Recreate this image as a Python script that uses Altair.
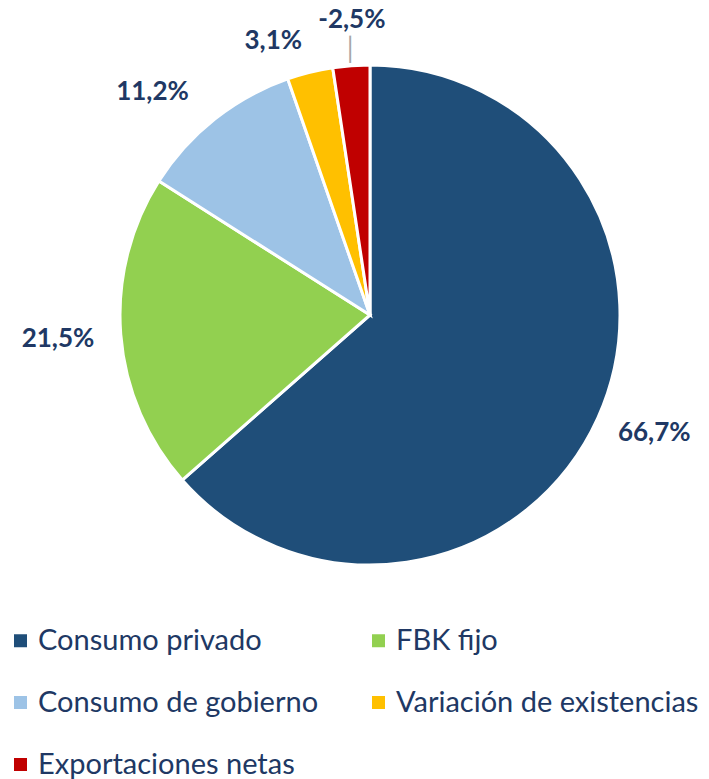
import altair as alt
import pandas as pd

categorias = ["Consumo privado", "FBK fijo", "Consumo de gobierno",
              "Variación de existencias", "Exportaciones netas"]
valores = [66.7, 21.5, 11.2, 3.1, -2.5]
colores = ["#1F4E79", "#92D050", "#9DC3E6", "#FFC000", "#C00000"]

etiquetas = [f"{v:.1f}".replace(".", ",") + "%" for v in valores]

df = pd.DataFrame({
    "categoria": categorias,
    "valor": valores,
    "etiqueta": etiquetas,
    "orden": list(range(len(categorias))),
})

FONT = "Lato"
TXT = "#203864"

base = alt.Chart(df).transform_calculate(
    absval="abs(datum.valor)"
).transform_window(
    cum="sum(absval)", sort=[alt.SortField("orden", order="ascending")],
    frame=[None, 0]
).transform_joinaggregate(
    total="sum(absval)"
).transform_calculate(
    t0="2*PI*(datum.cum-datum.absval)/datum.total",
    t1="2*PI*datum.cum/datum.total",
).transform_calculate(
    tm="(datum.t0+datum.t1)/2"
)

arcs = base.mark_arc(outerRadius=250, stroke="white", strokeWidth=3).encode(
    theta=alt.Theta("t0:Q", scale=None),
    theta2="t1:Q",
    color=alt.Color(
        "categoria:N",
        scale=alt.Scale(domain=categorias, range=colores),
        legend=alt.Legend(
            title=None, orient="none", legendX=-33, legendY=618,
            columns=2, direction="horizontal", symbolType="square",
            symbolSize=169, symbolStrokeWidth=0, labelFont=FONT,
            labelFontSize=29, labelColor=TXT, labelOffset=3, rowPadding=32,
            columnPadding=45, padding=0, labelLimit=400,
        ),
    ),
)

# label placement per slice: (radius, dx, dy)
colocacion = {
    "Consumo privado": (312, 0, -11),
    "FBK fijo": (313, 0, 0),
    "Consumo de gobierno": (310, -25, 20),
    "Variación de existencias": (282, -29, 0),
    "Exportaciones netas": (296, 4, 0),
}

capas = [arcs]
for cat, (r, dx, dy) in colocacion.items():
    capas.append(
        base.mark_text(radius=r, dx=dx, dy=dy, font=FONT, fontSize=26,
                       fontWeight="bold", color=TXT, align="center",
                       baseline="middle")
        .encode(theta=alt.Theta("tm:Q", scale=None), text="etiqueta:N")
        .transform_filter(alt.datum.categoria == cat)
    )

# leader line for the small negative slice
capas.append(
    base.mark_text(radius=266, font="DejaVu Sans", fontSize=23,
                   color="#A6A6A6", align="center", baseline="middle")
    .encode(theta=alt.Theta("tm:Q", scale=None), text=alt.value("│"))
    .transform_filter(alt.datum.categoria == "Exportaciones netas")
)

chart = alt.layer(*capas).properties(
    width=662, height=614,
    autosize=alt.AutoSizeParams(type="none"),
    padding={"left": 31, "top": 0, "right": 0, "bottom": 157},
).configure_view(stroke=None)

chart.save("out.html", embed_options={"renderer": "svg", "actions": False})
